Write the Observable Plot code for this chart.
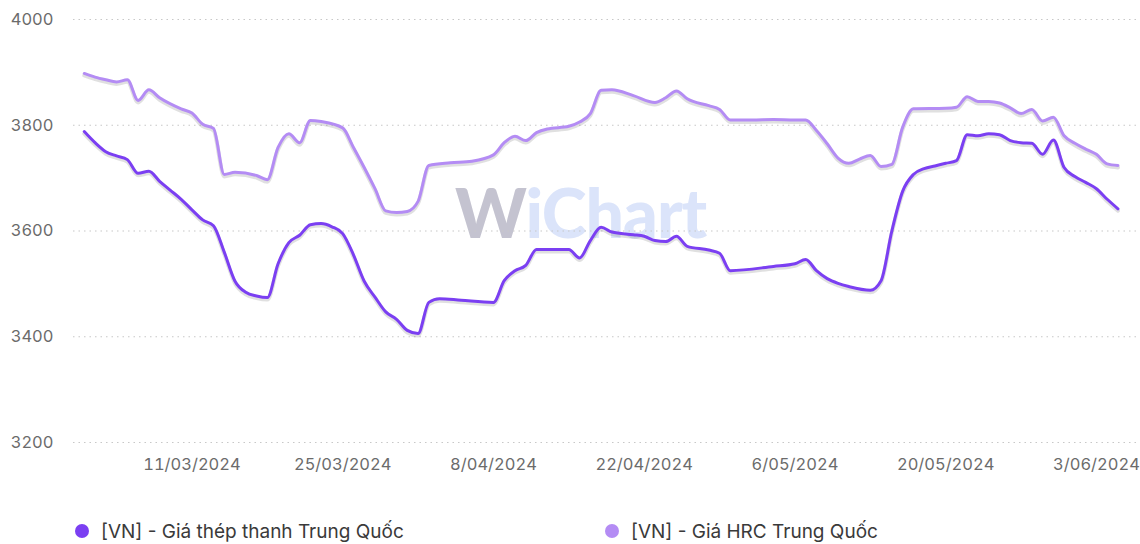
<!DOCTYPE html>
<html>
<head>
<meta charset="utf-8">
<script src="https://cdn.jsdelivr.net/npm/d3@7"></script>
<script src="https://cdn.jsdelivr.net/npm/@observablehq/plot@0.6"></script>
<style>
  html, body { margin: 0; padding: 0; background: #fff; }
  body { width: 1140px; height: 544px; overflow: hidden; font-family: Inter, "Noto Sans", sans-serif; position: relative; }
  #chart { position: relative; z-index: 1; }
  #wm { position: absolute; left: 455px; top: 178px; font-family: Lato, "Noto Sans", sans-serif; font-weight: 900; font-size: 68px; letter-spacing: -1px; z-index: 0; white-space: nowrap; line-height: 1; }
  #wm .w { color: #c4c3d0; }
  #wm .c { color: #dbe4fa; }
  #legend { position: absolute; top: 517px; left: 0; width: 1140px; height: 28px; font-size: 19px; color: #3a3a3a; }
  .item { position: absolute; top: 0; display: flex; align-items: center; height: 28px; }
  .dot { width: 14px; height: 14px; border-radius: 50%; margin-right: 12px; }
</style>
</head>
<body>
<div id="wm"><span class="w">W</span><span class="c">iChart</span></div>
<div id="chart"></div>
<div id="legend"></div>
<script>
// ---- Data ----
const seriesNames = ["[VN] - Giá thép thanh Trung Quốc", "[VN] - Giá HRC Trung Quốc"];
const seriesColors = ["#7b3ff2", "#b48cf4"];

const rebarDates = ["2024-03-01","2024-03-02","2024-03-03","2024-03-04","2024-03-05","2024-03-06","2024-03-07","2024-03-08","2024-03-09","2024-03-10","2024-03-11","2024-03-12","2024-03-13","2024-03-14","2024-03-15","2024-03-16","2024-03-17","2024-03-18","2024-03-19","2024-03-20","2024-03-21","2024-03-22","2024-03-23","2024-03-24","2024-03-25","2024-03-26","2024-03-27","2024-03-28","2024-03-29","2024-03-30","2024-03-31","2024-04-01","2024-04-02","2024-04-03","2024-04-05","2024-04-08","2024-04-09","2024-04-10","2024-04-11","2024-04-12","2024-04-15","2024-04-16","2024-04-17","2024-04-18","2024-04-19","2024-04-21","2024-04-22","2024-04-23","2024-04-24","2024-04-25","2024-04-26","2024-04-28","2024-04-29","2024-04-30","2024-05-04","2024-05-06","2024-05-07","2024-05-08","2024-05-09","2024-05-10","2024-05-11","2024-05-13","2024-05-14","2024-05-15","2024-05-16","2024-05-17","2024-05-18","2024-05-19","2024-05-20","2024-05-21","2024-05-22","2024-05-23","2024-05-24","2024-05-25","2024-05-26","2024-05-27","2024-05-28","2024-05-29","2024-05-30","2024-05-31","2024-06-01","2024-06-02","2024-06-03","2024-06-04","2024-06-05"];
const rebarValues = [3788,3767,3750,3742,3735,3709,3713,3694,3677,3660,3640,3621,3610,3560,3505,3484,3477,3474,3538,3578,3592,3612,3614,3608,3595,3555,3505,3475,3447,3433,3412,3406,3465,3472,3469,3465,3506,3525,3535,3565,3565,3549,3582,3607,3598,3593,3590,3582,3580,3590,3571,3564,3558,3525,3533,3538,3546,3525,3510,3501,3495,3488,3506,3600,3675,3707,3718,3723,3728,3733,3782,3780,3784,3782,3771,3767,3766,3745,3772,3720,3703,3692,3680,3660,3642];

const hrcDates = ["2024-03-01","2024-03-02","2024-03-03","2024-03-04","2024-03-05","2024-03-06","2024-03-07","2024-03-08","2024-03-10","2024-03-11","2024-03-12","2024-03-13","2024-03-14","2024-03-15","2024-03-17","2024-03-18","2024-03-19","2024-03-20","2024-03-21","2024-03-22","2024-03-23","2024-03-25","2024-03-26","2024-03-27","2024-03-28","2024-03-29","2024-03-30","2024-03-31","2024-04-01","2024-04-02","2024-04-04","2024-04-06","2024-04-08","2024-04-09","2024-04-10","2024-04-11","2024-04-12","2024-04-13","2024-04-15","2024-04-16","2024-04-17","2024-04-18","2024-04-19","2024-04-21","2024-04-23","2024-04-24","2024-04-25","2024-04-26","2024-04-28","2024-04-29","2024-04-30","2024-05-02","2024-05-04","2024-05-06","2024-05-07","2024-05-08","2024-05-09","2024-05-10","2024-05-11","2024-05-12","2024-05-13","2024-05-14","2024-05-15","2024-05-16","2024-05-17","2024-05-20","2024-05-21","2024-05-22","2024-05-23","2024-05-24","2024-05-25","2024-05-26","2024-05-27","2024-05-28","2024-05-29","2024-05-30","2024-05-31","2024-06-01","2024-06-02","2024-06-03","2024-06-04","2024-06-05"];
const hrcValues = [3898,3891,3886,3882,3886,3847,3867,3852,3831,3823,3802,3794,3707,3711,3705,3697,3758,3784,3767,3809,3807,3795,3758,3720,3680,3638,3635,3637,3656,3724,3729,3732,3744,3767,3779,3771,3786,3793,3798,3806,3822,3866,3867,3856,3843,3852,3865,3850,3837,3830,3810,3810,3811,3810,3810,3790,3765,3738,3728,3736,3743,3722,3726,3796,3831,3832,3834,3854,3845,3845,3842,3833,3822,3830,3808,3815,3780,3766,3755,3745,3727,3724];

const xTickDates = ["2024-03-11","2024-03-25","2024-04-08","2024-04-22","2024-05-06","2024-05-20","2024-06-03"];
const yTicks = [3200, 3400, 3600, 3800, 4000];

// ---- Build table ----
const parse = d3.utcParse("%Y-%m-%d");
const rows = [];
rebarDates.forEach((d, i) => rows.push({date: parse(d), value: rebarValues[i], series: seriesNames[0]}));
hrcDates.forEach((d, i) => rows.push({date: parse(d), value: hrcValues[i], series: seriesNames[1]}));

const fmt = d3.utcFormat("%-d/%m/%Y");

const chart = Plot.plot({
  width: 1140,
  height: 490,
  marginLeft: 73,
  marginRight: 1,
  marginTop: 19,
  marginBottom: 48,
  style: {fontFamily: "Inter, 'Noto Sans', sans-serif", fontSize: "16.5px", color: "#6b6b6b", background: "transparent"},
  x: {
    type: "utc",
    domain: [parse("2024-02-29"), parse("2024-06-07")],
    ticks: xTickDates.map(parse),
    tickFormat: fmt,
    tickSize: 0,
    tickPadding: 16,
    label: null
  },
  y: {
    domain: [3200, 4000],
    ticks: yTicks,
    tickFormat: d => String(d),
    tickSize: 0,
    tickPadding: 20,
    label: null
  },
  color: {domain: seriesNames, range: seriesColors},
  marks: [
    Plot.ruleY(yTicks, {stroke: "#c8c8c8", strokeDasharray: "1.5,4", strokeWidth: 1.2}),
    Plot.line(rows, {x: "date", y: "value", z: "series", stroke: "#555", strokeOpacity: 0.18, strokeWidth: 4, dy: 2, curve: "monotone-x"}),
    Plot.line(rows.filter(r => r.series === seriesNames[1]), {x: "date", y: "value", stroke: "series", strokeWidth: 3, curve: "monotone-x"}),
    Plot.line(rows.filter(r => r.series === seriesNames[0]), {x: "date", y: "value", stroke: "series", strokeWidth: 3, curve: "monotone-x"})
  ]
});
document.getElementById("chart").appendChild(chart);

// ---- Legend ----
const legend = document.getElementById("legend");
const legendLeft = [75, 605];
seriesNames.forEach((name, i) => {
  const item = document.createElement("div");
  item.className = "item";
  item.style.left = legendLeft[i] + "px";
  const dot = document.createElement("span");
  dot.className = "dot";
  dot.style.background = seriesColors[i];
  const label = document.createElement("span");
  label.textContent = name;
  item.appendChild(dot);
  item.appendChild(label);
  legend.appendChild(item);
});
</script>
</body>
</html>
